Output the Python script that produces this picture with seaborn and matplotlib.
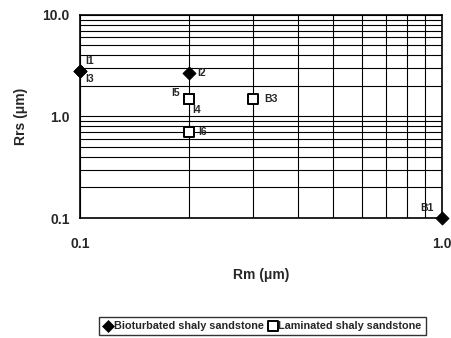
import pandas as pd
import seaborn as sns
import matplotlib.pyplot as plt
from matplotlib.ticker import FixedLocator, FixedFormatter, LogLocator, NullFormatter

# data
bio_names = ["I1", "I3", "I2", "B1"]
bio_rm = [0.1, 0.1, 0.2, 1.0]
bio_rrs = [2.8, 2.8, 2.7, 0.1]

lam_names = ["I5", "I4", "I6", "B3"]
lam_rm = [0.2, 0.2, 0.2, 0.3]
lam_rrs = [1.5, 1.5, 0.7, 1.5]

# label offsets in points
bio_offsets = [(4, 7), (4, -6), (6, 0), (-16, 7)]
lam_offsets = [(-13, 4), (2, -8), (7, 0), (8, 0)]

bio = pd.DataFrame({"name": bio_names, "Rm": bio_rm, "Rrs": bio_rrs})
lam = pd.DataFrame({"name": lam_names, "Rm": lam_rm, "Rrs": lam_rrs})

sns.set_style("white")
plt.rcParams["font.family"] = ["Liberation Sans", "DejaVu Sans"]

fig, ax = plt.subplots(figsize=(4.52, 3.38), dpi=100)
fig.subplots_adjust(left=0.177, right=0.978, top=0.956, bottom=0.355)

sns.scatterplot(data=bio, x="Rm", y="Rrs", ax=ax, marker="D", s=45, color="black",
                edgecolor="black", zorder=5, clip_on=False, label="Bioturbated shaly sandstone")
sns.scatterplot(data=lam, x="Rm", y="Rrs", ax=ax, marker="s", s=55, facecolor="white",
                edgecolor="black", linewidth=1.4, zorder=5, clip_on=False,
                label="Laminated shaly sandstone")

ax.set_xscale("log")
ax.set_yscale("log")
ax.set_xlim(0.1, 1.0)
ax.set_ylim(0.1, 10.0)

ax.xaxis.set_major_locator(FixedLocator([0.1, 1.0]))
ax.xaxis.set_major_formatter(FixedFormatter(["0.1", "1.0"]))
ax.yaxis.set_major_locator(FixedLocator([0.1, 1.0, 10.0]))
ax.yaxis.set_major_formatter(FixedFormatter(["0.1", "1.0", "10.0"]))
ax.xaxis.set_minor_locator(LogLocator(base=10, subs=range(2, 10)))
ax.yaxis.set_minor_locator(LogLocator(base=10, subs=range(2, 10)))
ax.xaxis.set_minor_formatter(NullFormatter())
ax.yaxis.set_minor_formatter(NullFormatter())

ax.grid(True, which="both", color="black", linewidth=0.8)
ax.tick_params(axis="both", which="major", labelsize=10, length=4, color="black")
ax.tick_params(axis="x", which="major", pad=10)
ax.tick_params(axis="both", which="minor", length=0)
for lab in ax.get_xticklabels() + ax.get_yticklabels():
    lab.set_fontweight("bold")
for sp in ax.spines.values():
    sp.set_color("black")
    sp.set_linewidth(1.2)

for df, offs in [(bio, bio_offsets), (lam, lam_offsets)]:
    for (_, r), off in zip(df.iterrows(), offs):
        ax.annotate(r["name"], (r["Rm"], r["Rrs"]), xytext=off, textcoords="offset points",
                    fontsize=7.5, fontweight="bold", va="center", ha="left",
                    annotation_clip=False)

ax.set_xlabel("Rm (\u03bcm)", fontsize=10, fontweight="bold", labelpad=12)
ax.set_ylabel("Rrs (\u03bcm)", fontsize=10, fontweight="bold", labelpad=10)

ax.legend().remove()
handles, labels = ax.get_legend_handles_labels()
fig.legend(handles, labels, loc="center", bbox_to_anchor=(0.58, 0.035), ncol=2,
           prop={"size": 7.8, "weight": "bold"}, frameon=True, fancybox=False,
           edgecolor="black", handletextpad=0.05, columnspacing=0.3, borderpad=0.35,
           handlelength=1.0, markerscale=0.9)

fig.savefig("out.png", dpi=100)
